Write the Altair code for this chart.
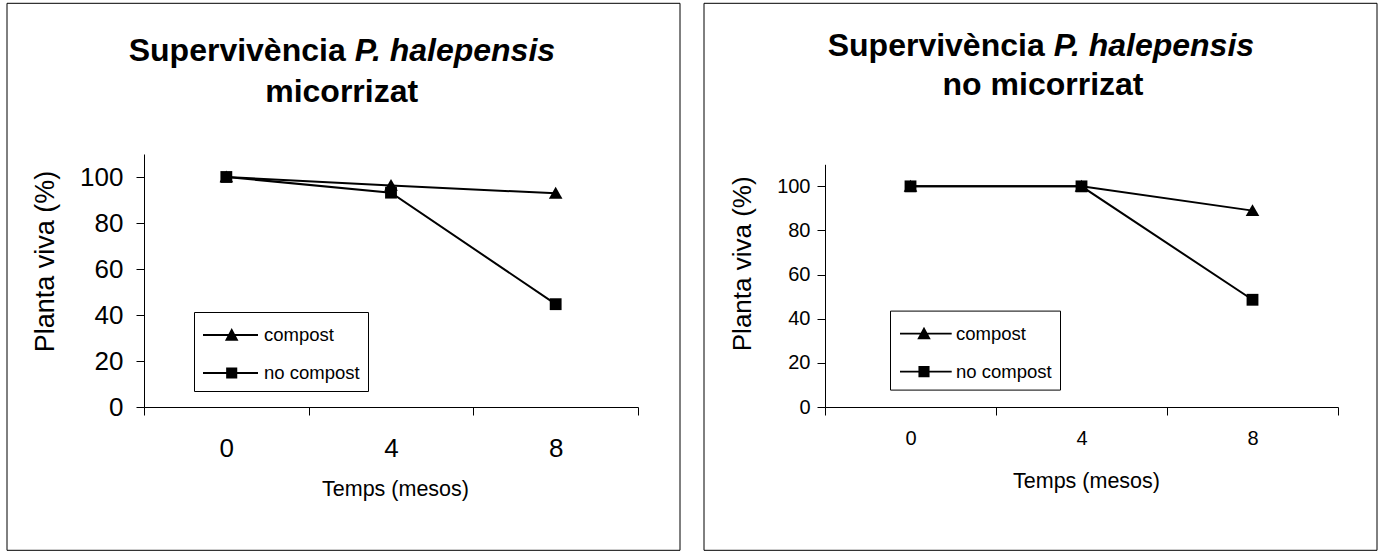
import altair as alt
import pandas as pd

# ---------------- data ----------------
months = ["0", "4", "8"]
series_names = ["compost", "no compost"]
left_compost = [100, 96.3, 92.9]
left_nocompost = [100, 93.2, 44.7]
right_compost = [100, 100, 89.0]
right_nocompost = [100, 100, 48.6]
y_ticks = [0, 20, 40, 60, 80, 100]
title_main = "Supervivència"
title_species = "P. halepensis"
subtitles = ["micorrizat", "no micorrizat"]
x_title = "Temps (mesos)"
y_title = "Planta viva (%)"

SANS = "Liberation Sans, Arial, sans-serif"
NARROW = "Liberation Sans Narrow, Arial Narrow, Liberation Sans, sans-serif"

TRIANGLE = "M-1.15,0.9L0,-1.1L1.15,0.9Z"


def long_df(compost, nocompost):
    rows = []
    for name, vals in zip(series_names, [compost, nocompost]):
        for m, v in zip(months, vals):
            rows.append({"month": m, "value": v, "series": name})
    return pd.DataFrame(rows)


def legend_path(kind, x0, x1, xm):
    # horizontal line drawn as a thin filled bar, plus the marker
    line = f"M{x0:.3f},-0.065H{x1:.3f}V0.065H{x0:.3f}Z"
    if kind == "tri":
        mk = f"M{xm-0.45:.3f},0.38L{xm:.3f},-0.46L{xm+0.45:.3f},0.38Z"
    else:
        mk = f"M{xm-0.37:.3f},-0.37H{xm+0.37:.3f}V0.37H{xm-0.37:.3f}Z"
    return line + mk


def panel(compost, nocompost, subtitle, g):
    df = long_df(compost, nocompost)
    one = pd.DataFrame({"k": [0]})

    x = alt.X(
        "month:O", sort=months, bandPosition=0.5,
        scale=alt.Scale(type="band", domain=months, paddingInner=0, paddingOuter=0),
        axis=alt.Axis(
            title=x_title, labelAngle=0, tickBand="extent", tickSize=8,
            labelPadding=g["xlabpad"], labelFontSize=g["tickfs"], labelBaseline="middle",
            titleFont=NARROW, titleFontSize=21.5, titleFontWeight="normal",
            titleX=g["xtx"], titleY=g["xty"], titleBaseline="middle", titleAlign="center",
        ),
    )
    yscale = dict(domain=[0, 110], nice=False, zero=True)
    if g.get("yrange"):
        yscale["range"] = g["yrange"]
    y = alt.Y(
        "value:Q",
        scale=alt.Scale(**yscale),
        axis=alt.Axis(
            title=y_title, values=y_ticks, tickSize=8, labelPadding=g["ylabpad"],
            labelFontSize=g["tickfs"], titleFontSize=g["ytfs"], titleFontWeight="normal",
            titleX=g["ytx"], titleY=g["yty"], titleAngle=270, titleBaseline="middle",
            titleAlign="center",
        ),
    )

    border = alt.Chart(one).mark_rect(fill="white", fillOpacity=0, stroke="black", strokeWidth=1).encode(
        x=alt.value(g["bx1"]), x2=alt.value(g["bx2"]), y=alt.value(g["by1"]), y2=alt.value(g["by2"])
    )

    fs = g["titlefs"]
    t1a = alt.Chart(one).mark_text(font=SANS, fontSize=fs, fontWeight="bold", align="right",
                                   baseline="alphabetic", color="black").encode(
        x=alt.value(g["t1r"]), y=alt.value(g["t1y"]), text=alt.value(title_main))
    t1b = alt.Chart(one).mark_text(font=SANS, fontSize=fs, fontWeight="bold", fontStyle="italic",
                                   align="left", baseline="alphabetic", color="black").encode(
        x=alt.value(g["t1i"]), y=alt.value(g["t1y"]), text=alt.value(title_species))
    t2 = alt.Chart(one).mark_text(font=SANS, fontSize=fs, fontWeight="bold", align="center",
                                  baseline="alphabetic", color="black").encode(
        x=alt.value(g["t2x"]), y=alt.value(g["t2y"]), text=alt.value(subtitle))

    lines = alt.Chart(df).mark_line(color="black", strokeWidth=2).encode(
        x=x, y=y, detail="series:N")
    pts = alt.Chart(df).mark_point(filled=True, color="black", opacity=1, size=140).encode(
        x=x, y=y,
        shape=alt.Shape("series:N", scale=alt.Scale(domain=series_names, range=[TRIANGLE, "square"]),
                        legend=None))

    lp = g["leg"]
    paths = [legend_path("tri", lp[0], lp[1], lp[2]), legend_path("sq", lp[0], lp[1], lp[2])]
    leg = alt.Chart(df).mark_point(filled=True, color="black", opacity=1, size=900).encode(
        x=x, y=y,
        shape=alt.Shape("series:N", scale=alt.Scale(domain=series_names, range=paths),
                        legend=alt.Legend(
                            orient="none", legendX=g["lx"], legendY=g["ly"], title=None,
                            direction="vertical", strokeColor="black", fillColor="white",
                            padding=8, rowPadding=13, symbolSize=900, symbolFillColor="black",
                            symbolOpacity=1, symbolStrokeWidth=0,
                            labelOffset=g["loff"], labelFont=NARROW, labelFontSize=18.5,
                            labelColor="black", labelLimit=0))
    ).transform_filter("datum.value < 0")

    return alt.layer(border, t1a, t1b, t2, lines, pts, leg).properties(
        width=g["w"], height=g["h"]).resolve_scale(shape="independent")


gl = dict(w=494, h=253, bx1=-137, bx2=536, by1=-150.7, by2=396.3,
          titlefs=32, t1r=201.7, t1i=210.7, t1y=-92.7, t2x=197.7, t2y=-52,
          tickfs=26, xlabpad=33, ylabpad=13, ytfs=27, ytx=-99, yty=107,
          xtx=251, xty=82, lx=50, ly=158, loff=32, leg=(-0.933, 2.733, 0.98))
gr = dict(w=513, h=253, yrange=[253, 10.3], bx1=-121, bx2=552, by1=-150.7, by2=396.3,
          titlefs=32, t1r=219.7, t1i=228.7, t1y=-97.7, t2x=218, t2y=-59.4,
          tickfs=20, xlabpad=23, ylabpad=7, ytfs=26, ytx=-83, yty=109.3,
          xtx=261, xty=74, lx=65, ly=156.6, loff=28, leg=(-0.867, 2.58, 0.733))

left = panel(left_compost, left_nocompost, subtitles[0], gl)
right = panel(right_compost, right_nocompost, subtitles[1], gr)

chart = alt.hconcat(left, right, spacing=22).properties(
    padding={"left": 6, "top": 2, "right": 0, "bottom": 0},
    background="white",
).configure_view(stroke=None).configure_axis(
    grid=False, domainColor="black", tickColor="black", labelColor="black",
    titleColor="black", domainWidth=1, tickWidth=1, labelFont=SANS, titleFont=SANS,
)

chart.save("out.html", embed_options={"renderer": "svg", "actions": False})
